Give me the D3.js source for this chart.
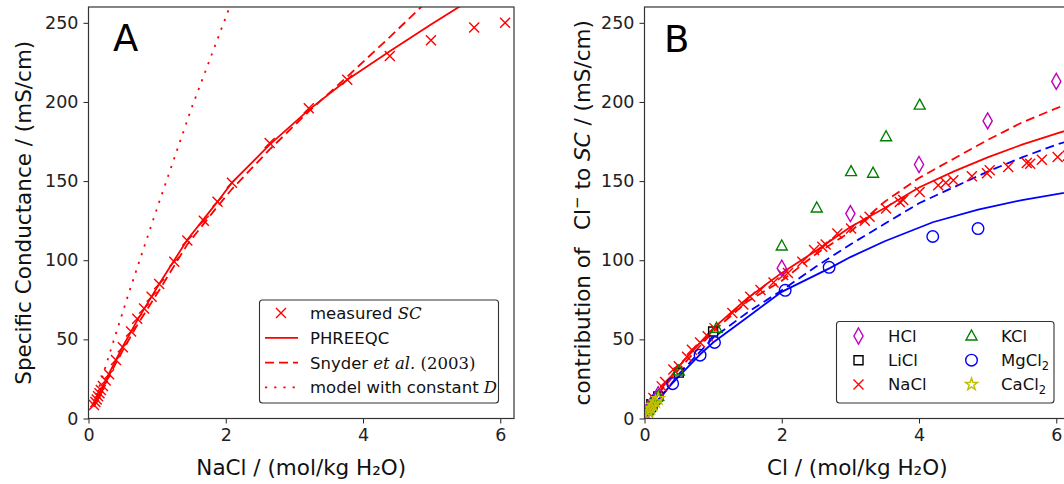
<!DOCTYPE html>
<html>
<head>
<meta charset="utf-8">
<script src="https://cdn.jsdelivr.net/npm/d3@7"></script>
<style>
  body { margin: 0; background: #fff; }
  svg { font-family: "DejaVu Sans", sans-serif; }
</style>
</head>
<body>
<svg id="chart" width="1064" height="484"></svg>
<script>
// ---- panel A data ----
const naclConc = [0.08,0.1,0.12,0.14,0.16,0.18,0.21,0.25,0.3,0.4,0.5,0.62,0.71,0.81,0.92,1.03,1.25,1.44,1.68,1.88,2.09,2.64,3.21,3.77,4.39,4.99,5.62,6.07];
const naclSC   = [8.5,10.5,12,14,16,18,20.5,24,28,37,45,55,63,69.5,77,85,99,112.5,125,137,149,174,196,214,229,239,247,250];

const phreeqcX = [0.08,0.3,0.5,0.71,1.03,1.44,1.88,2.09,2.64,3.21,3.77,4.39,4.99,5.62];
const phreeqcY = [8,28.5,45.5,62,85,113,137,149,173,195,214,232,249,266];

const snyderX = [0.08,0.3,0.5,0.71,1.03,1.44,1.88,2.09,2.64,3.21,3.77,4.39,4.99];
const snyderY = [7.5,27,43,59,81,110,134,145,170,194,216,241,266];

const constDX = [0.08,0.3,0.6,1.0,1.5,2.1];
const constDY = [9,40,81,133,196,265];

// ---- panel B data ----
const hclX = [0.05,0.1,0.2,2,3,4,5,6];
const hclY = [5,9,15,95,129.5,160.5,188,213];
const liclX = [0.05,0.1,0.2,0.5,1.0];
const liclY = [5,9,14,29,55];
const naclBX = [0.05,0.13,0.25,0.3,0.42,0.5,0.62,0.69,0.81,0.92,1.02,1.28,1.44,1.54,1.69,1.88,2.02,2.09,2.3,2.47,2.59,2.64,2.81,3.01,3.21,3.28,3.52,3.72,3.77,4.01,4.28,4.39,4.5,4.77,4.99,5.03,5.3,5.57,5.62,5.79,6.02,6.17];
const naclBY = [4,13,20.3,23,30.9,33,39,43.5,48,52,57.1,66.6,72,77,81.2,86,90.7,92,99,106.4,108.5,110,116.9,120.1,125,127.4,132.7,136.8,138,143.1,147.4,149,150.5,153,155,156.8,158.9,161.4,161,163.5,165.2,166];
const kclX = [0.05,0.1,0.2,0.5,1.05,2,2.51,3.01,3.33,3.52,4.01];
const kclY = [5,9,14,30,57,109,133,156,155,178,198];
const mgclX = [0.1,0.17,0.41,0.81,1.02,2.05,2.69,4.2,4.86];
const mgclY = [7,12,22,40,48,81,95.5,115,120];
const caclX = [0.03,0.06,0.09,0.12,0.16,0.2];
const caclY = [2.5,4.5,6.5,8.5,10.5,12.5];

const naclCurveX = [0,0.1,0.25,0.5,1,1.5,2,2.5,3,3.5,4,4.5,5,5.5,6,6.3];
const naclCurveY = [0,8,19,33,57,76,92,106,121,133,146,156,165,173,180,184];
const naclCurve2Y = [0,7.5,18,31,55,74,87,104,118,137,152,164,176,187,196,201];
const mgCurveX = [0,0.1,0.2,0.4,0.8,1,1.5,2,2.7,3,3.5,4.2,4.86,5.5,6.3];
const mgCurveY = [0,7,12,22,40,48,64,80,95,102,112,124,132,138,144];
const mgCurve2X = [0,0.5,1,1.5,2,2.5,3,3.5,4,4.5,5,5.5,6,6.3];
const mgCurve2Y = [0,28,51,67,81,96,110,123,136,146,156,165,173,177];

const xTicks = [0,2,4,6];
const yTicks = [0,50,100,150,200,250];

const RED = "#ff0000", BLUE = "#0000ff", GREEN = "#008000", MAG = "#bf00bf", OLIVE = "#bfbf00";

const svg = d3.select("#chart");
const plotTop = 7, plotBottom = 418.5, pw = 425.5;

function zip(xs, ys) { return xs.map((x, i) => [x, ys[i]]); }

function makePanel(left, id) {
  const x = d3.scaleLinear().domain([0, 6.2]).range([left, left + pw]);
  const y = d3.scaleLinear().domain([0, 260]).range([plotBottom, plotTop]);
  svg.append("clipPath").attr("id", id)
    .append("rect").attr("x", left).attr("y", plotTop).attr("width", pw).attr("height", plotBottom - plotTop);
  const g = svg.append("g").attr("clip-path", `url(#${id})`);

  const xa = svg.append("g").attr("transform", `translate(0,${plotBottom})`)
    .call(d3.axisBottom(x).tickValues(xTicks).tickSize(5).tickPadding(5).tickFormat(d3.format("d")));
  const ya = svg.append("g").attr("transform", `translate(${left},0)`)
    .call(d3.axisLeft(y).tickValues(yTicks).tickSize(5).tickPadding(5));
  [xa, ya].forEach(a => {
    a.select(".domain").remove();
    a.selectAll("text").attr("font-size", 17.5).attr("fill", "#222").attr("font-family", "DejaVu Sans");
    a.selectAll("line").attr("stroke", "#222");
  });
  return {x, y, g, left};
}

function frame(p) {
  svg.append("rect").attr("x", p.left).attr("y", plotTop).attr("width", pw).attr("height", plotBottom - plotTop)
    .attr("fill", "none").attr("stroke", "#333").attr("stroke-width", 1.2);
}

function drawLine(p, pts, color, dash) {
  const line = d3.line().x(d => p.x(d[0])).y(d => p.y(d[1]));
  p.g.append("path").datum(pts).attr("fill", "none").attr("stroke", color)
    .attr("stroke-width", 1.8).attr("stroke-dasharray", dash || null).attr("d", line);
}

const crossPath = "M-5,-5L5,5M-5,5L5,-5";
const diamondPath = "M0,-8L4.6,0L0,8L-4.6,0Z";
function drawMarkers(g, pts, px, py, shape, color) {
  let path;
  if (shape === "x") path = crossPath;
  else if (shape === "d") path = diamondPath;
  else if (shape === "tri") path = "M0,-6L5.5,4L-5.5,4Z";
  else if (shape === "circ") path = d3.symbol(d3.symbolCircle, 105)();
  else if (shape === "sq") path = "M-4.5,-4.5H4.5V4.5H-4.5Z";
  else if (shape === "star") path = d3.symbol(d3.symbolStar, 45)();
  g.selectAll(null).data(pts).enter().append("path")
    .attr("transform", d => `translate(${px(d[0])},${py(d[1])})`)
    .attr("d", path).attr("fill", "none").attr("stroke", color).attr("stroke-width", 1.4);
}

// ---------- Panel A ----------
const A = makePanel(88.5, "clipA");
drawLine(A, zip(constDX, constDY), RED, "2.2,7");
drawLine(A, zip(snyderX, snyderY), RED, "9,5");
drawLine(A, zip(phreeqcX, phreeqcY), RED);
drawMarkers(A.g, zip(naclConc, naclSC), A.x, A.y, "x", RED);
frame(A);

svg.append("text").attr("x", 113).attr("y", 51).attr("font-size", 37).text("A");

// legend A
const legA = svg.append("g");
legA.append("rect").attr("x", 259.5).attr("y", 300).attr("width", 239).attr("height", 103)
  .attr("rx", 3).attr("fill", "#fff").attr("fill-opacity", 0.85).attr("stroke", "#333").attr("stroke-width", 1.1);
const legItemsA = [
  {kind: "x", parts: [["measured ", "s"], ["SC", "si"]]},
  {kind: "solid", parts: [["PHREEQC", "s"]]},
  {kind: "dash", parts: [["Snyder ", "s"], ["et al.", "si"], [" (2003)", "r"]]},
  {kind: "dot", parts: [["model with constant ", "s"], ["D", "si"]]}
];
legItemsA.forEach((it, i) => {
  const cy = 313 + i * 24.8;
  if (it.kind === "x") {
    legA.append("path").attr("transform", `translate(281,${cy})`).attr("d", crossPath)
      .attr("stroke", RED).attr("stroke-width", 1.4).attr("fill", "none");
  } else {
    legA.append("line").attr("x1", 265).attr("x2", 298).attr("y1", cy).attr("y2", cy)
      .attr("stroke", RED).attr("stroke-width", 1.8)
      .attr("stroke-dasharray", it.kind === "dash" ? "9,5" : it.kind === "dot" ? "2.2,7" : null);
  }
  const t = legA.append("text").attr("x", 310).attr("y", cy + 6).attr("font-size", 16.5).attr("fill", "#111");
  it.parts.forEach(([s, f]) => {
    const ts = t.append("tspan").text(s);
    if (f === "si") ts.attr("font-family", "DejaVu Serif").attr("font-style", "italic");
    if (f === "r") ts.attr("font-family", "DejaVu Serif");
  });
});

// axis labels A
svg.append("text").attr("x", A.left + pw / 2).attr("y", 475).attr("text-anchor", "middle")
  .attr("font-size", 21.5).attr("fill", "#111").text("NaCl / (mol/kg H₂O)");
svg.append("text").attr("transform", `translate(31,${(plotTop + plotBottom) / 2}) rotate(-90)`)
  .attr("text-anchor", "middle").attr("font-size", 21.5).attr("fill", "#111")
  .text("Specific Conductance / (mS/cm)");

// ---------- Panel B ----------
const B = makePanel(644.5, "clipB");
drawLine(B, zip(mgCurve2X, mgCurve2Y), BLUE, "9,5");
drawLine(B, zip(mgCurveX, mgCurveY), BLUE);
drawLine(B, zip(naclCurveX, naclCurve2Y), RED, "9,5");
drawLine(B, zip(naclCurveX, naclCurveY), RED);
drawMarkers(B.g, zip(liclX, liclY), B.x, B.y, "sq", "#000");
drawMarkers(B.g, zip(naclBX, naclBY), B.x, B.y, "x", RED);
drawMarkers(B.g, zip(mgclX, mgclY), B.x, B.y, "circ", BLUE);
drawMarkers(B.g, zip(hclX, hclY), B.x, B.y, "d", MAG);
drawMarkers(B.g, zip(kclX, kclY), B.x, B.y, "tri", GREEN);
drawMarkers(B.g, zip(caclX, caclY), B.x, B.y, "star", OLIVE);
frame(B);

svg.append("text").attr("x", 664).attr("y", 52).attr("font-size", 37).text("B");

// legend B
const legB = svg.append("g");
legB.append("rect").attr("x", 836.5).attr("y", 321.5).attr("width", 217.5).attr("height", 81.5)
  .attr("rx", 3).attr("fill", "#fff").attr("fill-opacity", 0.85).attr("stroke", "#333").attr("stroke-width", 1.1);
const legItemsB = [
  {shape: "d", color: MAG, name: "HCl", sub: ""},
  {shape: "sq", color: "#000", name: "LiCl", sub: ""},
  {shape: "x", color: RED, name: "NaCl", sub: ""},
  {shape: "tri", color: GREEN, name: "KCl", sub: ""},
  {shape: "circ", color: BLUE, name: "MgCl", sub: "2"},
  {shape: "star", color: OLIVE, name: "CaCl", sub: "2"}
];
legItemsB.forEach((it, i) => {
  const col = Math.floor(i / 3), row = i % 3;
  const mx = col === 0 ? 858.5 : 971.5;
  const cy = 336 + row * 24.2;
  const gm = legB.append("g");
  drawMarkers(gm, [[0, 0]], () => mx, () => cy, it.shape, it.color);
  const t = legB.append("text").attr("x", mx + 29.5).attr("y", cy + 6).attr("font-size", 16.5).attr("fill", "#111").text(it.name);
  if (it.sub) t.append("tspan").attr("font-size", 11.5).attr("dy", 4).text(it.sub);
});

// axis labels B
svg.append("text").attr("x", B.left + pw / 2).attr("y", 475).attr("text-anchor", "middle")
  .attr("font-size", 21.5).attr("fill", "#111").text("Cl / (mol/kg H₂O)");
const yl = svg.append("text").attr("transform", `translate(590,${(plotTop + plotBottom) / 2}) rotate(-90)`)
  .attr("text-anchor", "middle").attr("font-size", 21.5).attr("fill", "#111");
yl.append("tspan").text("contribution of\u2002 Cl");
yl.append("tspan").attr("font-size", 15).attr("dy", -8).text("\u2212");
yl.append("tspan").attr("dy", 8).text(" to ");
yl.append("tspan").attr("font-style", "italic").text("SC");
yl.append("tspan").text(" / (mS/cm)");
</script>
</body>
</html>
